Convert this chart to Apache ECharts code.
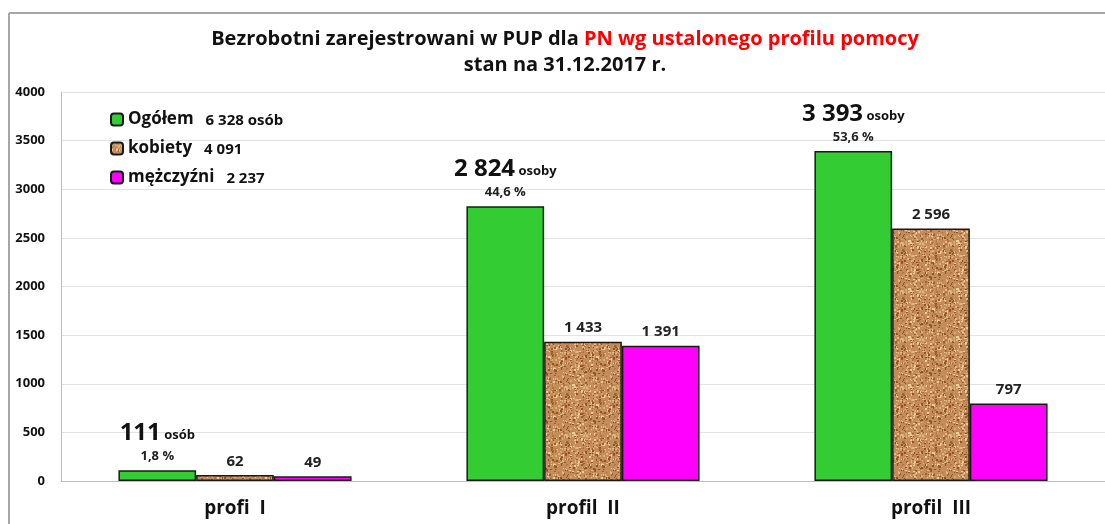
<!DOCTYPE html>
<html>
<head>
<meta charset="utf-8">
<script src="https://cdn.jsdelivr.net/npm/echarts@6/dist/echarts.min.js"></script>
<style>
  html, body { margin: 0; padding: 0; background: #fff; }
  #chart { width: 1105px; height: 524px; }
</style>
</head>
<body>
<div id="chart"></div>
<script>
var categories = ['profi  I', 'profil  II', 'profil  III'];
var seriesNames = ['Ogółem', 'kobiety', 'mężczyźni'];
var ogolem = [111, 2824, 3393];
var kobiety = [62, 1433, 2596];
var mezczyzni = [49, 1391, 797];
var shares = ['1,8 %', '44,6 %', '53,6 %'];
var units = ['osób', 'osoby', 'osoby'];
var legendTotals = ['6 328 osób', '4 091', '2 237'];

(function () {
  var font = '"Open Sans", "DejaVu Sans", sans-serif';

  function fmt(v) {
    return String(v).replace(/\B(?=(\d{3})+(?!\d))/g, ' ');
  }

  // cork-like texture for the "kobiety" bars
  function corkPattern() {
    var c = document.createElement('canvas');
    c.width = 48; c.height = 48;
    var g = c.getContext('2d');
    g.fillStyle = '#c48c5a';
    g.fillRect(0, 0, 48, 48);
    var seed = 11;
    function rnd() { seed = (seed * 16807) % 2147483647; return seed / 2147483647; }
    var tones = ['#9a6030', '#e2b685', '#b07540', '#d8a470', '#8a5428', '#efc99a'];
    for (var i = 0; i < 520; i++) {
      g.fillStyle = tones[Math.floor(rnd() * tones.length)];
      g.fillRect(Math.floor(rnd() * 48), Math.floor(rnd() * 48), 1 + Math.floor(rnd() * 2), 1 + Math.floor(rnd() * 2));
    }
    return { image: c, repeat: 'repeat' };
  }

  var chart = echarts.init(document.getElementById('chart'), null, { renderer: 'canvas' });
  var cork = corkPattern();

  var smallLabel = {
    show: true,
    position: 'top',
    distance: 6,
    color: '#222',
    fontFamily: font,
    fontWeight: 'bold',
    fontSize: 15,
    formatter: function (p) { return fmt(p.value); }
  };

  chart.setOption({
    animation: false,
    backgroundColor: '#fff',
    title: {
      left: 560,
      top: 21,
      textAlign: 'center',
      text: '{a|Bezrobotni zarejestrowani w PUP dla }{r|PN wg ustalonego profilu pomocy}\n{a|stan na 31.12.2017 r.}',
      textStyle: {
        lineHeight: 26,
        rich: {
          a: { fontFamily: font, fontWeight: 'bold', fontSize: 20, color: '#111', lineHeight: 26 },
          r: { fontFamily: font, fontWeight: 'bold', fontSize: 20, color: '#ff0000', lineHeight: 26 }
        }
      }
    },
    legend: {
      orient: 'vertical',
      left: 105,
      top: 105,
      itemWidth: 12,
      itemHeight: 12,
      itemGap: 10,
      data: seriesNames,
      formatter: function (name) {
        var i = seriesNames.indexOf(name);
        return '{n|' + name + '}{v|' + legendTotals[i] + '}';
      },
      textStyle: {
        fontSize: 17,
        lineHeight: 19,
        rich: {
          n: { fontFamily: font, fontWeight: 'bold', fontSize: 17, color: '#111', lineHeight: 19 },
          v: { fontFamily: font, fontWeight: 'bold', fontSize: 15, color: '#111', lineHeight: 19, padding: [2, 0, 0, 12] }
        }
      }
    },
    graphic: [
      { type: 'line', shape: { x1: 9, y1: 13, x2: 1105, y2: 13 }, style: { stroke: '#a6a6a6', lineWidth: 2 } },
      { type: 'line', shape: { x1: 9, y1: 13, x2: 9, y2: 524 }, style: { stroke: '#a6a6a6', lineWidth: 2 } }
    ],
    grid: { left: 61, right: 0, top: 92, bottom: 43 },
    xAxis: {
      type: 'category',
      data: categories,
      axisTick: { show: false },
      axisLine: { lineStyle: { color: '#bfbfbf', width: 1 } },
      axisLabel: {
        margin: 18,
        color: '#111',
        fontFamily: font,
        fontWeight: 'bold',
        fontSize: 19
      }
    },
    yAxis: {
      type: 'value',
      min: 0,
      max: 4000,
      interval: 500,
      axisLine: { show: true, lineStyle: { color: '#bfbfbf' } },
      axisTick: { show: false },
      splitLine: { lineStyle: { color: '#e3e3e3' } },
      axisLabel: {
        margin: 16,
        color: '#111',
        fontFamily: font,
        fontWeight: 'bold',
        fontSize: 13,
        formatter: function (v) { return String(v); }
      }
    },
    series: [
      {
        name: seriesNames[0],
        type: 'bar',
        data: ogolem,
        barGap: '0%',
        barCategoryGap: '33%',
        itemStyle: { color: '#33cc33', borderColor: '#1a1a1a', borderWidth: 1.5 },
        label: {
          show: true,
          position: 'top',
          distance: 5,
          formatter: function (p) {
            return '{big|' + fmt(p.value) + '} {unit|' + units[p.dataIndex] + '}\n{pct|' + shares[p.dataIndex] + '}';
          },
          rich: {
            big: { fontFamily: font, fontWeight: 'bold', fontSize: 24, color: '#111', lineHeight: 28 },
            unit: { fontFamily: font, fontWeight: 'bold', fontSize: 13, color: '#111', lineHeight: 28, padding: [4, 0, 0, 0] },
            pct: { fontFamily: font, fontWeight: 'bold', fontSize: 13, color: '#222', lineHeight: 18 }
          }
        }
      },
      {
        name: seriesNames[1],
        type: 'bar',
        data: kobiety,
        itemStyle: { color: cork, borderColor: '#1a1a1a', borderWidth: 1.5 },
        label: smallLabel
      },
      {
        name: seriesNames[2],
        type: 'bar',
        data: mezczyzni,
        itemStyle: { color: '#ff00ff', borderColor: '#1a1a1a', borderWidth: 1.5 },
        label: smallLabel
      }
    ]
  });
})();
</script>
</body>
</html>
